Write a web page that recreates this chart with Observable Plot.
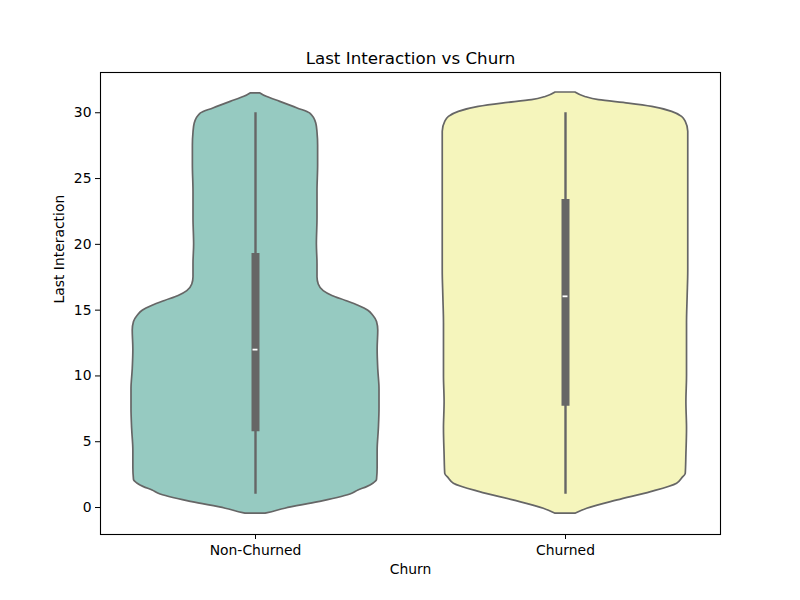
<!DOCTYPE html>
<html>
<head>
<meta charset="utf-8">
<script src="https://cdn.jsdelivr.net/npm/d3@7"></script>
<script src="https://cdn.jsdelivr.net/npm/@observablehq/plot@0.6"></script>
<style>
  body { margin: 0; background: white; }
  #plot-region { width: 800px; height: 600px; }
</style>
</head>
<body>
<div id="plot-region"></div>
<script>
const categories = ["Non-Churned", "Churned"];

// violin outlines: y value and relative density (1 = widest)
const nonChurnedY = [-0.47, -0.43, -0.09, 0.41, 1.05, 1.3, 1.55, 1.81, 2.1, 3, 4.3, 6, 7.5, 9, 10.5, 12, 13.45, 14.1, 14.57, 14.95, 15.33, 15.7, 16.08, 16.45, 16.95, 17.5, 18.5, 20, 22, 24, 26, 27.5, 28.5, 29.18, 29.95, 30.33, 30.83, 31.21, 31.47];
const nonChurnedDensity = [0.08, 0.10, 0.24, 0.51, 0.78, 0.83, 0.90, 0.95, 0.98, 0.985, 0.985, 0.995, 1.00, 1.00, 0.99, 0.985, 0.99, 0.98, 0.95, 0.91, 0.83, 0.73, 0.62, 0.55, 0.51, 0.50, 0.50, 0.495, 0.50, 0.50, 0.505, 0.505, 0.50, 0.49, 0.44, 0.34, 0.20, 0.09, 0.04];

const churnedY = [-0.47, -0.09, 0.54, 1.17, 1.81, 2.2, 2.57, 4, 6, 8, 10, 12, 14, 16, 18, 20, 22, 24, 26, 28, 28.55, 29.3, 29.69, 30.07, 30.45, 30.7, 30.96, 31.2, 31.54];
const churnedDensity = [0.08, 0.175, 0.42, 0.69, 0.90, 0.94, 0.97, 0.975, 0.98, 0.975, 0.98, 0.98, 0.98, 0.985, 0.99, 0.99, 0.99, 0.99, 0.99, 0.99, 0.99, 0.97, 0.94, 0.86, 0.70, 0.51, 0.27, 0.16, 0.08];

// inner box stats
const q1 = [5.75, 7.7];
const medians = [12, 16.05];
const q3 = [19.3, 23.4];
const whiskerLow = [1, 1];
const whiskerHigh = [30, 30];

const yTicks = [0, 5, 10, 15, 20, 25, 30];

const HALF_WIDTH = 0.4;
const LINE_COLOR = "#666666";
const FONT = "DejaVu Sans";

let violinRows = [];
[[nonChurnedY, nonChurnedDensity], [churnedY, churnedDensity]].forEach(([ys, ds], i) => {
    ys.forEach((y, j) => violinRows.push({ category: categories[i], pos: i, value: y, density: ds[j] }));
});

let boxRows = categories.map((c, i) => ({
    category: c, pos: i, q1: q1[i], median: medians[i], q3: q3[i], lo: whiskerLow[i], hi: whiskerHigh[i]
}));

let chart = Plot.plot({
    width: 800,
    height: 600,
    marginLeft: 100,
    marginRight: 80,
    marginTop: 72,
    marginBottom: 66,
    style: { fontFamily: FONT, color: "black", background: "white" },
    x: { domain: [-0.5, 1.5] },
    y: { domain: [-2.05, 33.06] },
    color: { domain: categories, range: ["#96cac1", "#f5f5bc"] },
    marks: [
        Plot.areaX(violinRows, {
            y: "value",
            x1: d => d.pos - d.density * HALF_WIDTH,
            x2: d => d.pos + d.density * HALF_WIDTH,
            z: "category", fill: "category",
            stroke: LINE_COLOR, strokeWidth: 1.7,
            curve: "monotone-y"
        }),
        Plot.ruleX(boxRows, { x: "pos", y1: "lo", y2: "hi", stroke: LINE_COLOR, strokeWidth: 2.4 }),
        Plot.ruleX(boxRows, { x: "pos", y1: "q1", y2: "q3", stroke: LINE_COLOR, strokeWidth: 8 }),
        Plot.ruleY(boxRows, { y: "median", x1: d => d.pos - 0.008, x2: d => d.pos + 0.008, stroke: "white", strokeWidth: 1.8 }),
        Plot.frame({ stroke: "black", strokeWidth: 1.1 }),
        Plot.axisX({ ticks: [0, 1], tickFormat: i => categories[i], tickSize: 5, tickPadding: 6, fontSize: 13.9, label: null }),
        Plot.axisY({ ticks: yTicks, tickSize: 5, tickPadding: 4, fontSize: 13.9, label: null }),
        Plot.text(["Last Interaction vs Churn"], { frameAnchor: "top", lineAnchor: "middle", dy: -14, fontSize: 16.7, fill: "black" }),
        Plot.text(["Churn"], { frameAnchor: "bottom", lineAnchor: "middle", dy: 35, fontSize: 13.9, fill: "black" }),
        Plot.text(["Last Interaction"], { frameAnchor: "left", dx: -41, rotate: -90, fontSize: 13.9, fill: "black" })
    ]
});

let plot = document.getElementById("plot-region");
plot.innerHTML = "";
plot.append(chart);
</script>
</body>
</html>
